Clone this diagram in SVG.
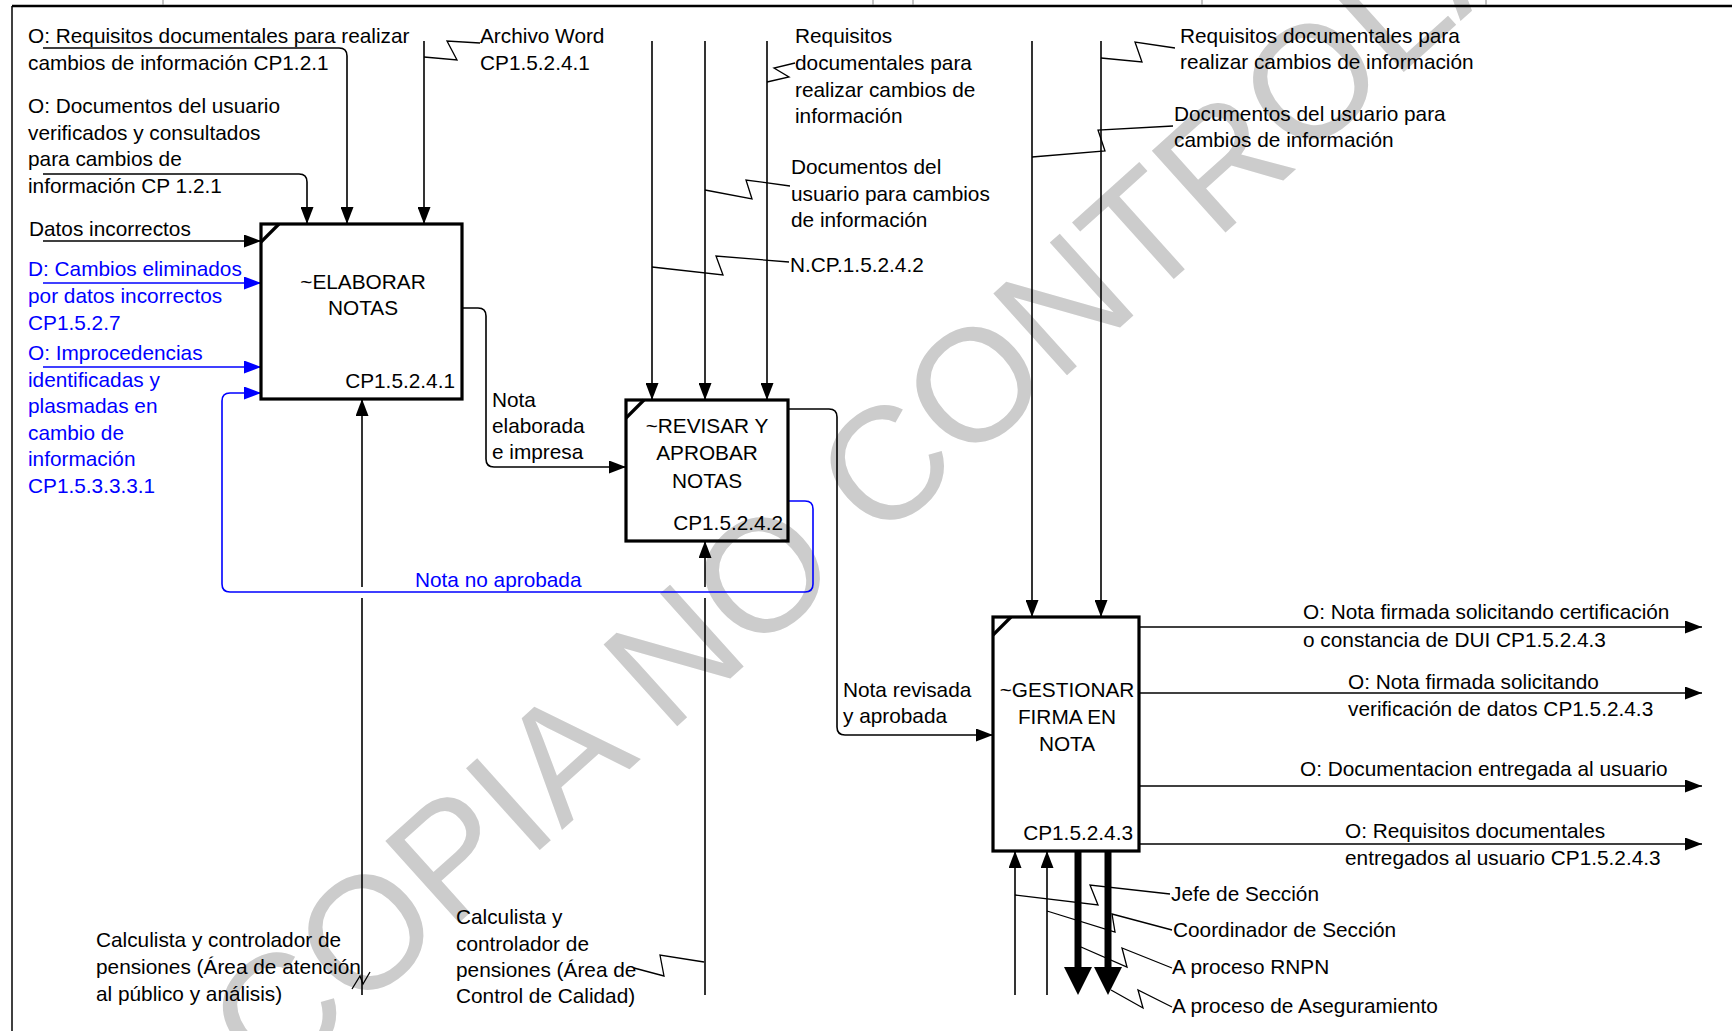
<svg xmlns="http://www.w3.org/2000/svg" width="1732" height="1031" viewBox="0 0 1732 1031">
<style>
text{font-family:"Liberation Sans",Arial,sans-serif;font-size:20.8px;fill:#000}
.blue{fill:#0000ff}
.c{text-anchor:middle}
.r{text-anchor:end}
.box{fill:none;stroke:#000;stroke-width:3.2}
.ln{fill:none;stroke:#000;stroke-width:1.6}
.bl{fill:none;stroke:#0000ff;stroke-width:1.6}
.ld{fill:none;stroke:#000;stroke-width:1.3}
.thick{fill:none;stroke:#000;stroke-width:7}
.wm{font-size:160px;fill:#cccccc}
</style>
<defs>
<marker id="ah" viewBox="0 0 17 13" refX="17" refY="6.5" markerWidth="17" markerHeight="13" orient="auto" markerUnits="userSpaceOnUse"><path d="M0,0 L17,6.5 L0,13 z" fill="#000"/></marker>
<marker id="ahb" viewBox="0 0 17 13" refX="17" refY="6.5" markerWidth="17" markerHeight="13" orient="auto" markerUnits="userSpaceOnUse"><path d="M0,0 L17,6.5 L0,13 z" fill="#0000ff"/></marker>
<marker id="aht" viewBox="0 0 28 28" refX="0" refY="14" markerWidth="28" markerHeight="28" orient="auto" markerUnits="userSpaceOnUse"><path d="M0,0 L28,14 L0,28 z" fill="#000"/></marker>
</defs>
<rect width="1732" height="1031" fill="#fff"/>
<text class="wm" transform="translate(271,1092) rotate(-42)">COPIA NO CONTROLADA</text>
<g id="frame">
<line x1="12" y1="6" x2="1732" y2="6" stroke="#000" stroke-width="2.5"/>
<line x1="12" y1="6" x2="12" y2="1031" stroke="#000" stroke-width="1.5"/>
<g stroke="#888" stroke-width="1">
<line x1="163" y1="0" x2="163" y2="5"/><line x1="873" y1="0" x2="873" y2="5"/><line x1="913" y1="0" x2="913" y2="5"/><line x1="1202" y1="0" x2="1202" y2="5"/><line x1="1486" y1="0" x2="1486" y2="5"/>
</g>
</g>
<g id="connectors">
<path class="ln" d="M43,48 H339 Q347,48 347,56 V224" marker-end="url(#ah)"/>
<path class="ln" d="M43,174 H299 Q307,174 307,182 V224" marker-end="url(#ah)"/>
<path class="ln" d="M424,41 V224" marker-end="url(#ah)"/>
<path class="ld" d="M424,57 L457,60 L447,41 L480,43"/>
<path class="ln" d="M43,241 H261" marker-end="url(#ah)"/>
<path class="bl" d="M43,283 H261" marker-end="url(#ahb)"/>
<path class="bl" d="M43,367 H261" marker-end="url(#ahb)"/>
<path class="bl" d="M788,501 H805 Q813,501 813,509 V584 Q813,592 805,592 H230 Q222,592 222,584 V401 Q222,393 230,393 H261" marker-end="url(#ahb)"/>
<path class="ln" d="M362,995 V598"/>
<path class="ln" d="M362,587 V399" marker-end="url(#ah)"/>
<path class="ld" d="M352,989 L360,976 L363,984 L370,972"/>
<path class="ln" d="M462,308 H478 Q486,308 486,316 V459 Q486,467 494,467 H626" marker-end="url(#ah)"/>
<path class="ln" d="M652,41 V400" marker-end="url(#ah)"/>
<path class="ln" d="M705,41 V400" marker-end="url(#ah)"/>
<path class="ln" d="M767,41 V400" marker-end="url(#ah)"/>
<path class="ld" d="M767,82 L789,77 L774,68 L795,63"/>
<path class="ld" d="M705,190 L752,199 L746,180 L790,186"/>
<path class="ld" d="M652,267 L723,275 L716,256 L789,262"/>
<path class="ln" d="M705,995 V598"/>
<path class="ln" d="M705,587 V541" marker-end="url(#ah)"/>
<path class="ld" d="M634,968 L664,976 L660,955 L704,962"/>
<path class="ln" d="M788,409 H829 Q837,409 837,417 V727 Q837,735 845,735 H993" marker-end="url(#ah)"/>
<path class="ln" d="M1032,41 V617" marker-end="url(#ah)"/>
<path class="ln" d="M1101,41 V617" marker-end="url(#ah)"/>
<path class="ld" d="M1101,58 L1142,62 L1135,42 L1175,48"/>
<path class="ld" d="M1032,157 L1105,151 L1098,130 L1173,126"/>
<path class="ln" d="M1139,627 H1702" marker-end="url(#ah)"/>
<path class="ln" d="M1139,693 H1702" marker-end="url(#ah)"/>
<path class="ln" d="M1139,786 H1702" marker-end="url(#ah)"/>
<path class="ln" d="M1139,844 H1702" marker-end="url(#ah)"/>
<path class="ln" d="M1015,995 V851" marker-end="url(#ah)"/>
<path class="ln" d="M1047,995 V851" marker-end="url(#ah)"/>
<path class="thick" d="M1078,851 V967" marker-end="url(#aht)"/>
<path class="thick" d="M1108,851 V967" marker-end="url(#aht)"/>
<path class="ld" d="M1015,895 L1098,905 L1090,885 L1170,894"/>
<path class="ld" d="M1047,911 L1115,932 L1112,914 L1172,930"/>
<path class="ld" d="M1081,947 L1127,967 L1122,948 L1172,968"/>
<path class="ld" d="M1111,990 L1143,1008 L1138,990 L1172,1007"/>
</g>
<g id="box-elaborar">
<rect class="box" x="261" y="224" width="201" height="175"/>
<line class="box" x1="261" y1="242" x2="279" y2="224"/>
<text class="c" x="363" y="289">~ELABORAR</text>
<text class="c" x="363" y="315">NOTAS</text>
<text class="r" x="455" y="388">CP1.5.2.4.1</text>
</g>
<g id="box-revisar">
<rect class="box" x="626" y="400" width="162" height="141"/>
<line class="box" x1="626" y1="418" x2="644" y2="400"/>
<text class="c" x="707" y="433">~REVISAR Y</text>
<text class="c" x="707" y="460">APROBAR</text>
<text class="c" x="707" y="488">NOTAS</text>
<text class="r" x="783" y="530">CP1.5.2.4.2</text>
</g>
<g id="box-gestionar">
<rect class="box" x="993" y="617" width="146" height="234"/>
<line class="box" x1="993" y1="635" x2="1011" y2="617"/>
<text class="c" x="1067" y="697">~GESTIONAR</text>
<text class="c" x="1067" y="724">FIRMA EN</text>
<text class="c" x="1067" y="751">NOTA</text>
<text class="r" x="1133" y="840">CP1.5.2.4.3</text>
</g>
<g id="labels">
<text x="28" y="43">O: Requisitos documentales para realizar</text>
<text x="28" y="70">cambios de información CP1.2.1</text>
<text x="28" y="113">O: Documentos del usuario</text>
<text x="28" y="140">verificados y consultados</text>
<text x="28" y="166">para cambios de</text>
<text x="28" y="193">información CP 1.2.1</text>
<text x="480" y="43">Archivo Word</text>
<text x="480" y="70">CP1.5.2.4.1</text>
<text x="29" y="236">Datos incorrectos</text>
<text class="blue" x="28" y="276">D: Cambios eliminados</text>
<text class="blue" x="28" y="303">por datos incorrectos</text>
<text class="blue" x="28" y="330">CP1.5.2.7</text>
<text class="blue" x="28" y="360">O: Improcedencias</text>
<text class="blue" x="28" y="387">identificadas y</text>
<text class="blue" x="28" y="413">plasmadas en</text>
<text class="blue" x="28" y="440">cambio de</text>
<text class="blue" x="28" y="466">información</text>
<text class="blue" x="28" y="493">CP1.5.3.3.3.1</text>
<text class="blue" x="415" y="587">Nota no aprobada</text>
<text x="492" y="407">Nota</text>
<text x="492" y="433">elaborada</text>
<text x="492" y="459">e impresa</text>
<text x="795" y="43">Requisitos</text>
<text x="795" y="70">documentales para</text>
<text x="795" y="97">realizar cambios de</text>
<text x="795" y="123">información</text>
<text x="791" y="174">Documentos del</text>
<text x="791" y="201">usuario para cambios</text>
<text x="791" y="227">de información</text>
<text x="790" y="272">N.CP.1.5.2.4.2</text>
<text x="1180" y="43">Requisitos documentales para</text>
<text x="1180" y="69">realizar cambios de información</text>
<text x="1174" y="121">Documentos del usuario para</text>
<text x="1174" y="147">cambios de información</text>
<text x="843" y="697">Nota revisada</text>
<text x="843" y="723">y aprobada</text>
<text x="1303" y="619">O: Nota firmada solicitando certificación</text>
<text x="1303" y="647">o constancia de DUI CP1.5.2.4.3</text>
<text x="1348" y="689">O: Nota firmada solicitando</text>
<text x="1348" y="716">verificación de datos CP1.5.2.4.3</text>
<text x="1300" y="776">O: Documentacion entregada al usuario</text>
<text x="1345" y="838">O: Requisitos documentales</text>
<text x="1345" y="865">entregados al usuario CP1.5.2.4.3</text>
<text x="1171" y="901">Jefe de Sección</text>
<text x="1173" y="937">Coordinador de Sección</text>
<text x="1172" y="974">A proceso RNPN</text>
<text x="1172" y="1013">A proceso de Aseguramiento</text>
<text x="96" y="947">Calculista y controlador de</text>
<text x="96" y="974">pensiones (Área de atención</text>
<text x="96" y="1001">al público y análisis)</text>
<text x="456" y="924">Calculista y</text>
<text x="456" y="951">controlador de</text>
<text x="456" y="977">pensiones (Área de</text>
<text x="456" y="1003">Control de Calidad)</text>
</g>
</svg>
